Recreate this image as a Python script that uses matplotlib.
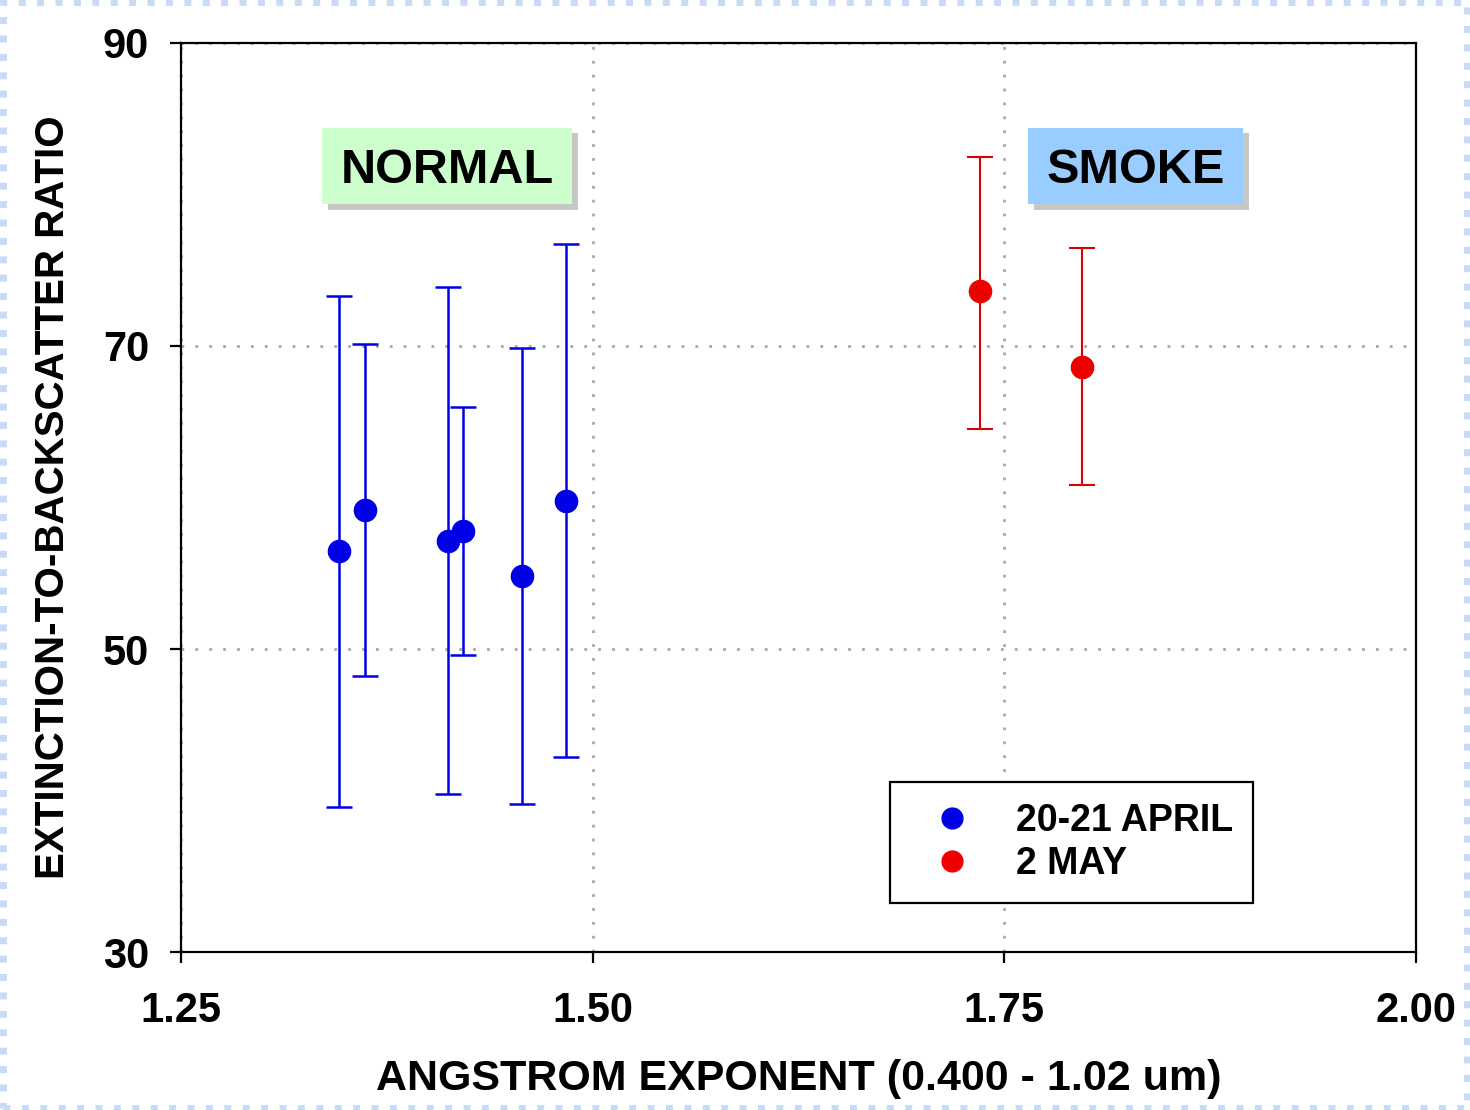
"""Extinction-to-backscatter ratio vs Angstrom exponent, normal vs smoke cases."""

import matplotlib
matplotlib.use("Agg")
import matplotlib.pyplot as plt
import matplotlib.patheffects as pe
from matplotlib.lines import Line2D
from matplotlib.patches import Rectangle

plt.rcParams["font.family"] = ["Liberation Sans", "DejaVu Sans"]
plt.rcParams["font.weight"] = "bold"

# 20-21 April (normal)
april_x = [1.346, 1.362, 1.412, 1.421, 1.457, 1.484]
april_y = [56.5, 59.2, 57.1, 57.8, 54.8, 59.8]
april_lo = [39.6, 48.2, 40.4, 49.6, 39.8, 42.9]
april_hi = [73.3, 70.1, 73.9, 66.0, 69.9, 76.7]

# 2 May (smoke)
may_x = [1.735, 1.797]
may_y = [73.6, 68.6]
may_lo = [64.5, 60.8]
may_hi = [82.5, 76.5]

x_ticks = [1.25, 1.50, 1.75, 2.00]
y_ticks = [30, 50, 70, 90]


def errs(y, lo, hi):
    return [[v - l for v, l in zip(y, lo)], [h - v for v, h in zip(y, hi)]]


fig = plt.figure(figsize=(14.7, 11.1), dpi=100)
ax = fig.add_axes([0.1231, 0.1423, 0.8402, 0.8190])

# light blue page border
fig.patches.append(Rectangle((0.002, 0.002), 0.996, 0.996, transform=fig.transFigure,
                             fill=False, edgecolor="#c9d9f7", linewidth=5, linestyle=":"))

ax.errorbar(april_x, april_y, yerr=errs(april_y, april_lo, april_hi), fmt="o",
            color="#0000e6", ecolor="#0000e6", markersize=16, elinewidth=1.8,
            capsize=9.5, capthick=1.8, zorder=3)
ax.errorbar(may_x, may_y, yerr=errs(may_y, may_lo, may_hi), fmt="o",
            color="#ee0000", ecolor="#dd0000", markersize=16, elinewidth=1.5,
            capsize=9.5, capthick=1.5, zorder=3)

ax.set_xlim(1.25, 2.00)
ax.set_ylim(30, 90)
ax.set_xticks(x_ticks)
ax.set_xticklabels([f"{v:.2f}" for v in x_ticks])
ax.set_yticks(y_ticks)
ax.grid(True, linestyle=(0, (1, 4)), color="#a8a8a8", linewidth=2)
ax.set_axisbelow(True)
for s in ax.spines.values():
    s.set_linewidth(1.6)
ax.tick_params(axis="both", length=8, width=1.6, labelsize=30)
ax.tick_params(axis="y", pad=15)
ax.tick_params(axis="x", pad=20)

ax.set_xlabel("ANGSTROM EXPONENT (0.400 - 1.02 um)", fontsize=31, fontweight="bold",
              labelpad=20)
ax.set_ylabel("EXTINCTION-TO-BACKSCATTER RATIO", fontsize=29, fontweight="bold",
              labelpad=22)

# category boxes with drop shadow
shadow = [pe.SimplePatchShadow(offset=(4, -4), shadow_rgbFace="#909090", alpha=0.5),
          pe.Normal()]
for (x0, x1), color, label in [((0.1142, 0.3166), "#ccffcc", "NORMAL"),
                               ((0.6858, 0.8599), "#99ccff", "SMOKE")]:
    box = Rectangle((x0, 0.8225), x1 - x0, 0.0845, transform=ax.transAxes,
                    facecolor=color, edgecolor="none", zorder=4)
    box.set_path_effects(shadow)
    ax.add_patch(box)
    ax.text((x0 + x1) / 2, 0.8225 + 0.0845 / 2 - 0.005, label, transform=ax.transAxes,
            ha="center", va="center", fontsize=35, fontweight="bold", zorder=5)

handles = [
    Line2D([], [], marker="o", linestyle="none", color="#0000e6", markersize=15),
    Line2D([], [], marker="o", linestyle="none", color="#ee0000", markersize=15),
]
leg = ax.legend(handles, ["20-21 APRIL", "2 MAY"], loc="lower left",
                bbox_to_anchor=(0.574, 0.054), fontsize=27, frameon=True,
                fancybox=False, edgecolor="black", framealpha=1, borderpad=0.55,
                handlelength=2.2, handletextpad=0.6, labelspacing=0.2,
                borderaxespad=0)
leg.get_frame().set_linewidth(1.6)
for t in leg.get_texts():
    t.set_fontweight("bold")

fig.savefig("out.png", dpi=100)
